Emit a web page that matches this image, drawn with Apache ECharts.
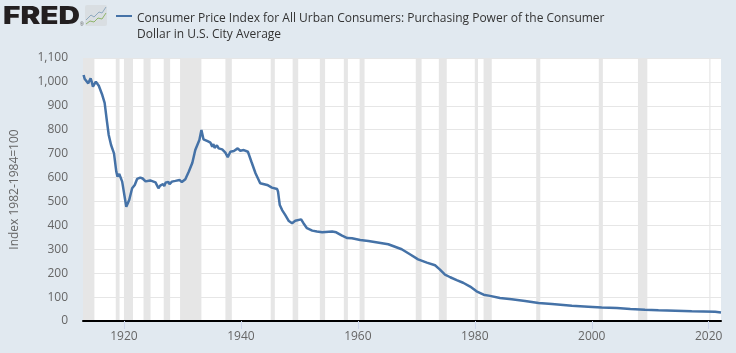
<!DOCTYPE html>
<html>
<head>
<meta charset="utf-8">
<style>
html, body { margin: 0; padding: 0; background: #e1e9f0; }
#main { width: 736px; height: 353px; }
</style>
<script src="https://cdn.jsdelivr.net/npm/echarts@6/dist/echarts.min.js"></script>
</head>
<body>
<div id="main"></div>
<script>
var chartTitle = 'Consumer Price Index for All Urban Consumers: Purchasing Power of the Consumer\nDollar in U.S. City Average';
var yAxisName = 'Index 1982-1984=100';
var xTicks = [1920, 1940, 1960, 1980, 2000, 2020];

// decimal years
var years = [
  1913.1, 1913.3, 1913.5, 1913.9, 1914.3, 1914.5, 1914.7, 1915.2, 1915.7, 1916.3,
  1916.7, 1917.1, 1917.4, 1917.8, 1918.3, 1918.7, 1918.9, 1919.2, 1919.7, 1920.4,
  1920.9, 1921.4, 1921.85, 1922.25, 1922.8, 1923.2, 1923.7, 1924.5, 1925.4, 1925.9,
  1926.2, 1926.4, 1926.7, 1926.9, 1927.1, 1927.4, 1927.6, 1927.8, 1928.2, 1928.5, 1928.8, 1929.1, 1929.5, 1929.9, 1930.5, 1931.1,
  1931.7, 1932.2, 1932.9, 1933.25, 1933.6, 1933.9, 1934.3, 1934.8, 1935.1, 1935.3, 1935.5, 1935.9, 1936.2,
  1936.8, 1937.35, 1937.75, 1938.2, 1938.8, 1939.45, 1939.9, 1940.5, 1941.2, 1941.8,
  1942.5, 1943.3, 1943.6, 1944.5, 1945.3, 1946.2, 1946.35, 1946.65, 1947.05, 1947.6,
  1948.2, 1948.75, 1949.3, 1950.3, 1950.7, 1951.3, 1952.2, 1953, 1953.9, 1955.6,
  1956.3, 1957.3, 1958.2, 1959, 1960.4, 1961.8, 1965.2, 1967.5, 1968.9, 1970.3,
  1971.8, 1973.2, 1974, 1974.9, 1975.8, 1976.9, 1978, 1979.2, 1980.3, 1981.5,
  1982.6, 1984.3, 1986.3, 1988.6, 1990.9, 1993.2, 1996.6, 1999.4, 2001.7, 2004.3,
  2006.6, 2009.1, 2011.4, 2014.3, 2017.1, 2021.1, 2022.1
];
var purchasingPower = [
  1029, 1012, 1008, 994, 1015, 1000, 980, 1001, 984, 945,
  912, 834, 778, 736, 701, 624, 604, 615, 583, 478,
  506, 555, 569, 594, 600, 596, 584, 588, 580, 555,
  566, 558, 573, 564, 578, 570, 582, 572, 583, 576, 586, 581, 590, 581, 593, 625,
  662, 715, 757, 799, 760, 760, 752, 746, 729, 740, 724, 735, 722,
  718, 704, 685, 708, 711, 722, 712, 715, 708, 666,
  618, 576, 580, 569, 558, 552, 541, 485, 464, 443,
  418, 409, 419, 425, 409, 388, 378, 374, 371, 374,
  371, 357, 347, 346, 339, 335, 321, 300, 279, 258,
  244, 233, 216, 194, 183, 171, 160, 144, 124, 110,
  105, 96, 91, 84, 75, 71, 64, 60, 56, 54,
  50, 47, 45, 43, 41, 39, 36
];

// grey recession bands
var recessionStart = [1913, 1918.6, 1920, 1923.35, 1926.8, 1929.6, 1937.35, 1945.1, 1948.85, 1953.5, 1957.6, 1960.3, 1969.9, 1973.85, 1980, 1981.5, 1990.5, 2001.2, 2007.9, 2020.1];
var recessionEnd = [1914.95, 1919.25, 1921.55, 1924.55, 1927.9, 1933.25, 1938.45, 1945.8, 1949.8, 1954.4, 1958.3, 1961.15, 1970.9, 1975.2, 1980.55, 1982.9, 1991.2, 2001.9, 2009.5, 2020.3];

var lineColor = '#4572a7';
var textColor = '#666666';
var fontName = '"Open Sans", sans-serif';

var myChart = echarts.init(document.getElementById('main'));

var lineData = [];
for (var i = 0; i < years.length; i++) {
  lineData.push([years[i], purchasingPower[i]]);
}
var bands = [];
for (var j = 0; j < recessionStart.length; j++) {
  bands.push([{ xAxis: recessionStart[j] }, { xAxis: recessionEnd[j] }]);
}

var option = {
  backgroundColor: '#e1e9f0',
  animation: false,
  title: {
    text: chartTitle,
    left: 132,
    top: 6,
    textStyle: {
      color: '#333333',
      fontFamily: fontName,
      fontSize: 12,
      fontWeight: 'normal',
      lineHeight: 16
    }
  },
  grid: {
    left: 83,
    right: 15,
    top: 58,
    height: 263,
    show: true,
    backgroundColor: '#ffffff',
    borderWidth: 0
  },
  xAxis: {
    type: 'value',
    min: 1913,
    max: 2022.1,
    z: 5,
    splitLine: { show: false },
    axisLine: { show: true, onZero: false, lineStyle: { color: '#000000', width: 2 } },
    axisTick: { show: true, customValues: xTicks, length: 8, lineStyle: { color: '#ccd6eb', width: 1 } },
    axisLabel: {
      customValues: xTicks,
      color: textColor,
      fontFamily: fontName,
      fontSize: 12,
      margin: 10,
      formatter: function (v) { return String(v); }
    }
  },
  yAxis: {
    type: 'value',
    min: 0,
    max: 1100,
    interval: 100,
    name: yAxisName,
    nameLocation: 'middle',
    nameGap: 62,
    nameTextStyle: { color: textColor, fontFamily: fontName, fontSize: 12 },
    axisLine: { show: false },
    axisTick: { show: false },
    splitLine: { lineStyle: { color: '#e6e6e6', width: 1 } },
    axisLabel: {
      color: textColor,
      fontFamily: fontName,
      fontSize: 12,
      margin: 15,
      formatter: function (v) { return v.toLocaleString('en-US'); }
    }
  },
  series: [
    {
      type: 'line',
      data: lineData,
      showSymbol: false,
      lineStyle: { color: lineColor, width: 2.5 },
      markArea: {
        silent: true,
        itemStyle: { color: '#e6e6e6' },
        data: bands
      }
    }
  ],
  graphic: [
    // legend swatch
    { type: 'line', shape: { x1: 116, y1: 16, x2: 132, y2: 16 }, style: { stroke: lineColor, lineWidth: 2 } },
    // FRED logo
    { type: 'text', x: 3, y: 5, scaleX: 1.24, style: { text: 'FRED', fill: '#231f20', font: '900 24px Inter, sans-serif' } },
    { type: 'text', x: 80, y: 22, style: { text: '®', fill: '#555555', font: '5px sans-serif' } },
    { type: 'rect', shape: { x: 85, y: 5, width: 22, height: 21, r: 2 }, style: { fill: '#d9dee2' } },
    { type: 'polyline', shape: { points: [[86, 20], [91, 15], [94, 17], [99, 12], [102, 13], [106, 7]] }, style: { stroke: '#8ea9bf', fill: null, lineWidth: 1 } },
    { type: 'polyline', shape: { points: [[86, 24], [90, 21], [94, 22], [98, 18], [102, 19], [106, 13]] }, style: { stroke: '#8fb56a', fill: null, lineWidth: 1 } }
  ]
};

myChart.setOption(option);
</script>
</body>
</html>
